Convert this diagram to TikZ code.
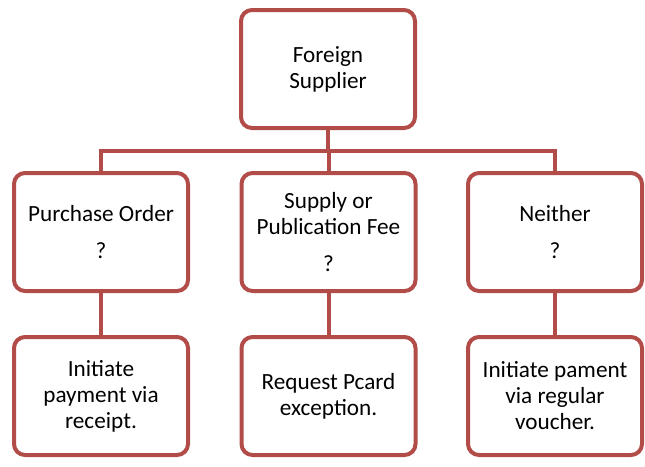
\documentclass[tikz,border=0pt]{standalone}
\usepackage{fontspec}
\setmainfont{Carlito}
\definecolor{boxred}{RGB}{178,76,73}
\begin{document}
\begin{tikzpicture}[x=1pt,y=-1pt,
  box/.style={draw=boxred, line width=4pt, rounded corners=11pt, fill=white,
    minimum width=174pt, minimum height=118pt, align=center, inner sep=0pt,
    font=\fontsize{23.2}{26}\selectfont, text=black},
  link/.style={draw=boxred, line width=4pt}]
\useasboundingbox (0,0) rectangle (645,466);
\fill[white] (0,0) rectangle (645,466);
\node[box] (top) at (328,69) {Foreign\\Supplier};
\node[box] (pleft) at (101,232) {Purchase Order\\[11pt]?};
\node[box] (pmid) at (328.5,232) {Supply or\\Publication Fee\\[11pt]?};
\node[box] (pright) at (555,232) {Neither\\[11pt]?};
\node[box] (bleft) at (101,396) {Initiate\\payment via\\receipt.};
\node[box] (bmid) at (328.5,396) {Request Pcard\\exception.};
\node[box] (bright) at (555,396) {Initiate pament\\via regular\\voucher.};
\coordinate (bus) at (328.5,151);
\draw[link] (top.south) -- (top.south |- bus);
\draw[link] (pleft.north) |- (bus) -| (pright.north);
\draw[link] (pmid.north) -- (pmid.north |- bus);
\draw[link] (pleft.south) -- (bleft.north);
\draw[link] (pmid.south) -- (bmid.north);
\draw[link] (pright.south) -- (bright.north);
\end{tikzpicture}
\end{document}
